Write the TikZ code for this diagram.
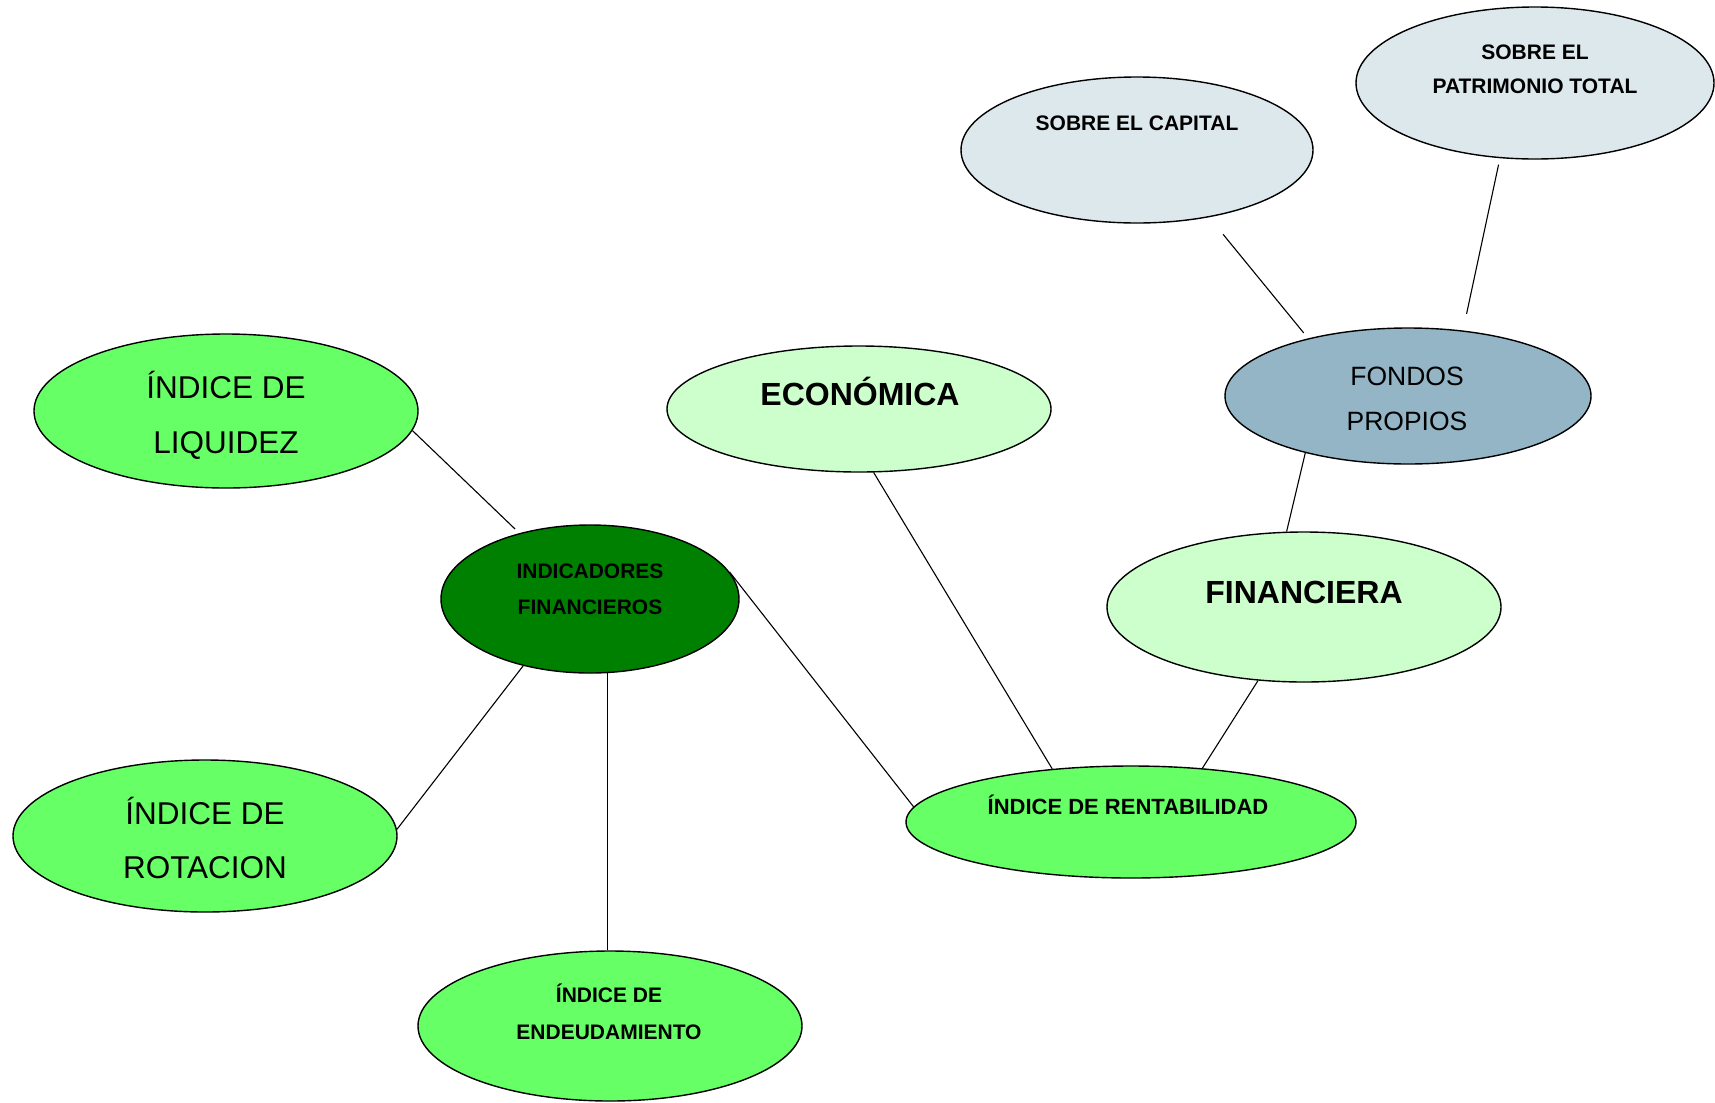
\documentclass[tikz,border=0pt]{standalone}
\usepackage{fontspec}
\setmainfont{Liberation Sans}
\usetikzlibrary{shapes.geometric}
\definecolor{lgreen}{HTML}{66FF66}
\definecolor{dgreen}{HTML}{008000}
\definecolor{pgreen}{HTML}{CCFFCC}
\definecolor{fondo}{RGB}{147,181,198}
\definecolor{sobre}{RGB}{221,232,237}
\tikzset{
  ell/.style={ellipse, draw=black, line width=1.4bp, inner sep=0pt},
  conn/.style={draw=black, line width=1.1bp},
  txt/.style={anchor=base, inner sep=0pt, text=black},
}
\newcommand{\fsz}[1]{\fontsize{#1bp}{#1bp}\selectfont}
\begin{document}
\begin{tikzpicture}[x=1bp, y=-1bp]
\useasboundingbox (0,0) rectangle (1715,1102);
\fill[white] (0,0) rectangle (1715,1102);

% ellipses
\node[ell, fill=lgreen, minimum width=384bp, minimum height=154bp] (liq) at (226,411) {};
\node[ell, fill=dgreen, minimum width=298bp, minimum height=148bp] (ind) at (590,599) {};
\node[ell, fill=lgreen, minimum width=384bp, minimum height=152bp] (rot) at (205,836) {};
\node[ell, fill=lgreen, minimum width=384bp, minimum height=150bp] (endd) at (610,1026) {};
\node[ell, fill=pgreen, minimum width=384bp, minimum height=126bp] (eco) at (859,409) {};
\node[ell, fill=lgreen, minimum width=450bp, minimum height=112bp] (rent) at (1131,822) {};
\node[ell, fill=pgreen, minimum width=394bp, minimum height=150bp] (fin) at (1304,607) {};
\node[ell, fill=fondo, minimum width=366bp, minimum height=136bp] (fon) at (1408,396) {};
\node[ell, fill=sobre, minimum width=352bp, minimum height=146bp] (cap) at (1137,150) {};
\node[ell, fill=sobre, minimum width=358bp, minimum height=152bp] (pat) at (1535,83) {};

% texts
\node[txt, font=\fsz{31.5}] (liqA) at (226,398) {ÍNDICE DE};
\node[txt, font=\fsz{31.5}] (liqB) at (226,453) {LIQUIDEZ};
\node[txt, font=\fsz{21}\bfseries] (indA) at (590,578) {INDICADORES};
\node[txt, font=\fsz{21}\bfseries] (indB) at (590,614) {FINANCIEROS};
\node[txt, font=\fsz{31.5}] (rotA) at (205,824) {ÍNDICE DE};
\node[txt, font=\fsz{31.5}] (rotB) at (205,878) {ROTACION};
\node[txt, font=\fsz{21}\bfseries] (endA) at (609,1002) {ÍNDICE DE};
\node[txt, font=\fsz{21}\bfseries] (endB) at (609,1039) {ENDEUDAMIENTO};
\node[txt, font=\fsz{32}\bfseries] (ecoA) at (860,405) {ECONÓMICA};
\node[txt, font=\fsz{22}\bfseries] (rentA) at (1128,814) {ÍNDICE DE RENTABILIDAD};
\node[txt, font=\fsz{32}\bfseries] (finA) at (1304,603) {FINANCIERA};
\node[txt, font=\fsz{26.5}] (fonA) at (1407,385) {FONDOS};
\node[txt, font=\fsz{26.5}] (fonB) at (1407,430) {PROPIOS};
\node[txt, font=\fsz{21}\bfseries] (capA) at (1137,130) {SOBRE EL CAPITAL};
\node[txt, font=\fsz{21}\bfseries] (patA) at (1535,59) {SOBRE EL};
\node[txt, font=\fsz{21}\bfseries] (patB) at (1535,93) {PATRIMONIO TOTAL};

% connectors
\draw[conn, shorten >=6bp] (liq.-6) -- (ind.137);
\draw[conn] (ind.225) -- (rot.2);
\draw[conn] (ind.-77) -- (ind.-77 |- endd.north);
\draw[conn] (ind.11) -- (rent.176);
\draw[conn] (eco.-77.5) -- (rent.146);
\draw[conn] (fin.-122) -- (rent.37.5);
\draw[conn] (fon.209) -- (fin.103);
\draw[conn, shorten <=22bp, shorten >=7bp] (cap.-43) -- (fon.150);
\draw[conn, shorten <=6.5bp, shorten >=17bp] (pat.-115.5) -- (fon.50.6);
\end{tikzpicture}
\end{document}
